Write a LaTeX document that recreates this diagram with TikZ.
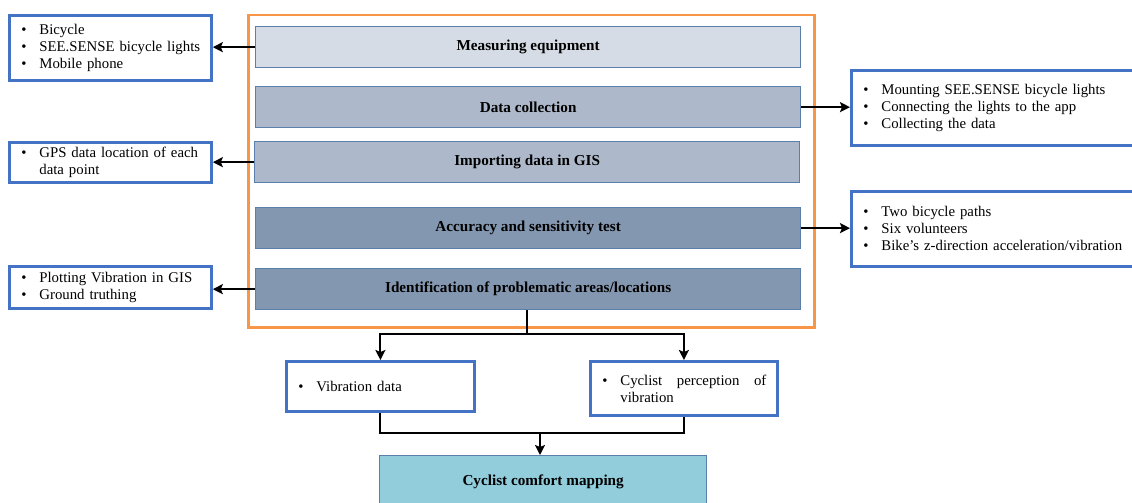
\documentclass[tikz,border=0pt]{standalone}
\usepackage{fontspec}
\setmainfont{Liberation Serif}
\usetikzlibrary{arrows.meta}
\definecolor{frameor}{HTML}{F79646}
\definecolor{boxblue}{HTML}{4472C4}
\definecolor{barline}{HTML}{5A7FAA}
\definecolor{barA}{HTML}{D6DCE5}
\definecolor{barB}{HTML}{ADB9CA}
\definecolor{barC}{HTML}{8497B0}
\definecolor{comfortfill}{HTML}{92CDDC}
\newcommand{\bul}[1]{\mbox{\makebox[18pt][l]{•}#1}}
\newcommand{\ind}[1]{\mbox{\hspace*{18pt}#1}}
\begin{document}
\begin{tikzpicture}[x=1pt,y=-1pt,
  every node/.style={font=\fontsize{14.8pt}{17pt}\selectfont},
  bar/.style={draw=barline, line width=1.3pt, minimum width=545pt, minimum height=41pt, anchor=north west, inner sep=0pt, font=\fontsize{15.2pt}{17pt}\selectfont\bfseries},
  infobox/.style={draw=boxblue, line width=2.8pt, fill=white, anchor=north west, inner xsep=12pt, inner ysep=0pt, align=left},
  arr/.style={line width=2pt, -{Stealth[length=10pt,width=10pt,inset=2pt]}},
  conn/.style={line width=2pt}]
\useasboundingbox (0,0) rectangle (1132,503);
% orange frame
\node[draw=frameor, line width=2.5pt, minimum width=566pt, minimum height=312pt, anchor=north west, inner sep=0pt] (frame) at (247,14) {};
% bars
\node[bar, fill=barA] (bar1) at (255,26) {Measuring equipment};
\node[bar, fill=barB] (bar2) at (255,86) {Data collection};
\node[bar, fill=barB] (bar3) at (254,141) {Importing data in GIS};
\node[bar, fill=barC] (bar4) at (255,207) {Accuracy and sensitivity test};
\node[bar, fill=barC] (bar5) at (255,268) {Identification of problematic areas/locations};
% left boxes
\node[infobox, minimum width=202pt, minimum height=65pt, text width=178pt] (lb1) at (8,14)
  {\bul{Bicycle}\\ \bul{SEE.SENSE bicycle lights}\\ \bul{Mobile phone}};
\node[infobox, minimum width=202pt, minimum height=40pt, text width=178pt] (lb2) at (8,141)
  {\bul{GPS data location of each}\\ \ind{data point}};
\node[infobox, minimum width=202pt, minimum height=42pt, text width=178pt] (lb3) at (8,265)
  {\bul{Plotting Vibration in GIS}\\ \bul{Ground truthing}};
% right boxes
\node[infobox, minimum width=286pt, minimum height=75pt, text width=262pt] (rb1) at (850,69)
  {\bul{Mounting SEE.SENSE bicycle lights}\\ \bul{Connecting the lights to the app}\\ \bul{Collecting the data}};
\node[infobox, minimum width=286pt, minimum height=75pt, text width=262pt] (rb2) at (850,190)
  {\bul{Two bicycle paths}\\ \bul{Six volunteers}\\ \bul{Bike's z-direction acceleration/vibration}};
% bottom boxes
\node[infobox, minimum width=188pt, minimum height=50pt, text width=164pt] (vib) at (285,360)
  {\bul{Vibration data}};
\node[infobox, minimum width=187pt, minimum height=54pt, text width=163pt] (perc) at (589,360)
  {\bul{\makebox[146pt][s]{Cyclist\hfill perception\hfill of}}\\ \ind{vibration}};
\node[draw=barline, line width=1.3pt, fill=comfortfill, minimum width=327pt, minimum height=52pt, anchor=north west, inner sep=0pt, font=\fontsize{15.2pt}{17pt}\selectfont\bfseries] (comfort) at (379,455) {Cyclist comfort mapping};
% connectors
\draw[arr] (bar1.west) -- (bar1.west -| lb1.east);
\draw[arr] (bar3.west) -- (bar3.west -| lb2.east);
\draw[arr] (bar5.west) -- (bar5.west -| lb3.east);
\draw[arr] (bar2.east) -- (bar2.east -| rb1.west);
\draw[arr] (bar4.east) -- (bar4.east -| rb2.west);
\coordinate (split) at (527,334);
\draw[conn] (bar5.south -| split) -- (split);
\draw[arr] (split) -| (vib.north);
\draw[arr] (split) -| (perc.north);
\coordinate (merge) at (540,433);
\draw[conn] (vib.south) |- (merge);
\draw[conn] (perc.south) |- (merge);
\draw[arr] (merge) -- (merge |- comfort.north);
\end{tikzpicture}
\end{document}
